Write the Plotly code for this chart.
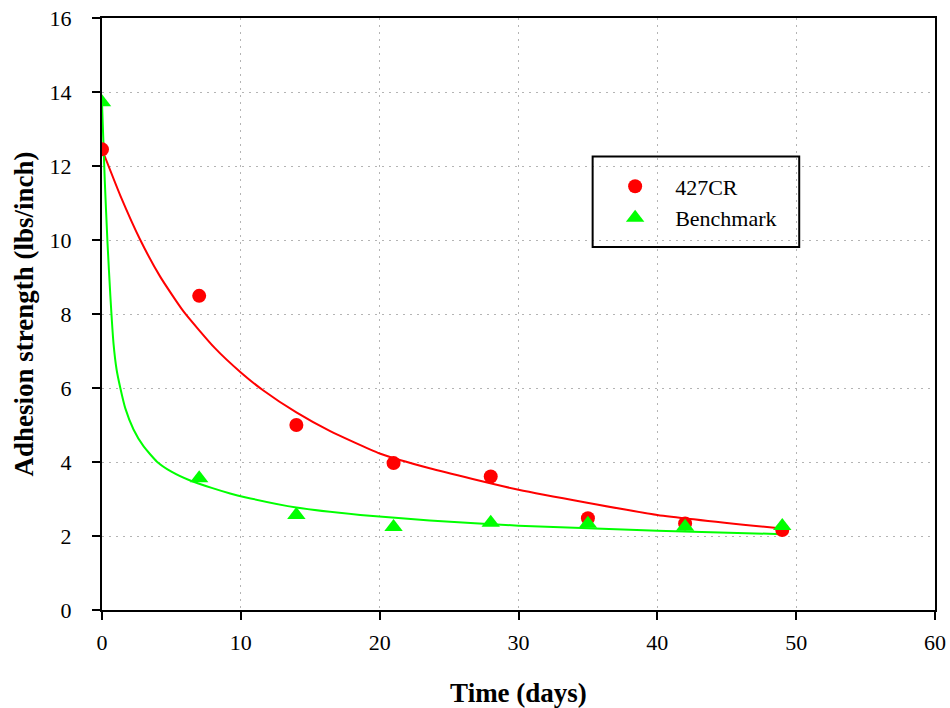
import plotly.graph_objects as go

# Measured data points
days = [0, 7, 14, 21, 28, 35, 42, 49]
cr427 = [12.45, 8.49, 5.0, 3.97, 3.61, 2.48, 2.34, 2.16]
benchmark = [13.72, 3.56, 2.57, 2.24, 2.36, 2.33, 2.25, 2.27]

# Fitted curves, values
cr_fit_x = [0, 1.32, 2.76, 4.19, 5.87, 8.1, 10, 11.6, 14, 16.4, 20, 23.6, 30, 40, 49]
cr_fit_y = [12.45, 11.2, 10.0, 9.01, 8.07, 7.09, 6.42, 5.94, 5.34, 4.84, 4.23, 3.83, 3.25, 2.57, 2.2]

bm_fit_x = [0, 0.2, 0.4, 0.6, 0.83, 1.05, 1.32, 1.68, 2.27, 3.0, 3.96, 5.0, 6.35, 7.9, 9.23,
            10.3, 14, 18.6, 23.6, 30, 40, 49]
bm_fit_y = [13.7, 11.6, 9.9, 8.5, 7.2, 6.5, 6.0, 5.45, 4.88, 4.42, 4.01, 3.74, 3.5, 3.3, 3.15,
            3.05, 2.77, 2.57, 2.42, 2.28, 2.14, 2.05]

RED = "#ff0000"
GREEN = "#00ff00"
FONT = "Liberation Serif, Times New Roman, serif"

fig = go.Figure()
fig.add_trace(go.Scatter(x=cr_fit_x, y=cr_fit_y, mode="lines", line=dict(color=RED, width=2, shape="spline", smoothing=0.5),
                         showlegend=False, hoverinfo="skip"))
fig.add_trace(go.Scatter(x=bm_fit_x, y=bm_fit_y, mode="lines", line=dict(color=GREEN, width=2, shape="spline", smoothing=0.5),
                         showlegend=False, hoverinfo="skip"))
fig.add_trace(go.Scatter(x=days, y=cr427, mode="markers", name="427CR",
                         marker=dict(symbol="circle", color=RED, size=14)))
fig.add_trace(go.Scatter(x=days, y=benchmark, mode="markers", name="Benchmark",
                         marker=dict(symbol="triangle-up", color=GREEN, size=16)))

axis_common = dict(
    showline=True, linecolor="black", linewidth=2, mirror=True,
    ticks="outside", ticklen=8, tickwidth=2, tickcolor="black",
    showgrid=True, gridcolor="#b4b4b4", griddash="2px,5px", gridwidth=1,
    zeroline=False, tickfont=dict(family=FONT, size=22, color="black"),
    automargin=False,
)

fig.update_xaxes(range=[0, 60], dtick=10, tick0=0, ticklabelstandoff=4,
                 title=dict(text="<b>Time (days)</b>", font=dict(family=FONT, size=27, color="black"), standoff=34),
                 **axis_common)
fig.update_yaxes(range=[0, 16], dtick=2, tick0=0, ticklabelstandoff=16,
                 title=dict(text="<b>Adhesion strength (lbs/inch)</b>", font=dict(family=FONT, size=27, color="black"), standoff=8),
                 **axis_common)

fig.add_shape(type="rect", xref="paper", yref="paper", x0=0.589, x1=0.837, y0=0.613, y1=0.766,
              line=dict(color="black", width=2), fillcolor="rgba(0,0,0,0)", layer="above")

fig.update_layout(
    width=950, height=708,
    margin=dict(l=102, r=15, t=18, b=98),
    paper_bgcolor="white", plot_bgcolor="white",
    font=dict(family=FONT, size=22, color="black"),
    legend=dict(x=0.592, y=0.751, xanchor="left", yanchor="top", bgcolor="rgba(0,0,0,0)",
                borderwidth=0, font=dict(family=FONT, size=22, color="black"), tracegroupgap=0,
                itemwidth=70),
)

fig.write_html("out.html", config={"displayModeBar": False},
               post_script="document.body.style.margin='0';document.body.style.padding='0';")
